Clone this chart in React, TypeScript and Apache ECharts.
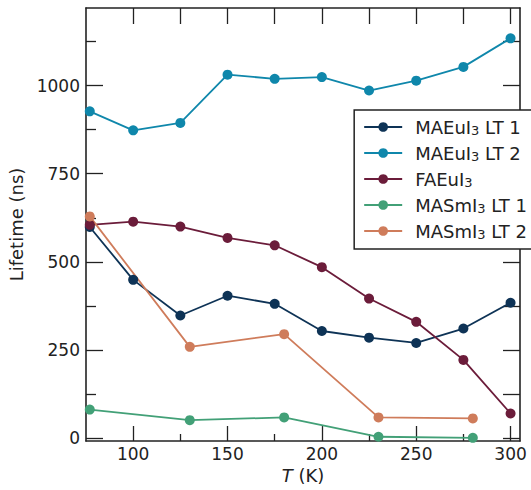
import React, { useEffect, useRef } from "react";
import * as echarts from "echarts";

const tempMAEu = [77, 100, 125, 150, 175, 200, 225, 250, 275, 300];
const tempMASm = [77, 130, 180, 230, 280];
const maeuLT1 = [599, 449, 348, 404, 381, 304, 285, 270, 311, 384];
const maeuLT2 = [927, 873, 894, 1031, 1019, 1024, 986, 1014, 1053, 1134];
const faeu = [605, 614, 600, 568, 547, 485, 396, 330, 222, 70];
const masmLT1 = [81, 51, 59, 4, 1];
const masmLT2 = [629, 259, 295, 59, 56];

const seriesNames = ["MAEuI3 LT 1", "MAEuI3 LT 2", "FAEuI3", "MASmI3 LT 1", "MASmI3 LT 2"];
const legendLabels: Record<string, string> = {
  "MAEuI3 LT 1": "{a|MAEuI}{s|3}{a| LT 1}",
  "MAEuI3 LT 2": "{a|MAEuI}{s|3}{a| LT 2}",
  "FAEuI3": "{a|FAEuI}{s|3}",
  "MASmI3 LT 1": "{a|MASmI}{s|3}{a| LT 1}",
  "MASmI3 LT 2": "{a|MASmI}{s|3}{a| LT 2}",
};
const colors = ["#0e3356", "#0f87ab", "#6b1c3a", "#42a077", "#cf7c5b"];

const xMajor = [100, 150, 200, 250, 300];
const xMinor = [125, 175, 225, 275];
const xAll = [100, 125, 150, 175, 200, 225, 250, 275, 300];
const yMajor = [0, 250, 500, 750, 1000];
const yMinor = [125, 375, 625, 875, 1125];
const yAll = [0, 125, 250, 375, 500, 625, 750, 875, 1000, 1125];

const FONT = "DejaVu Sans";
const INK = "#222";

function pairs(xs: number[], ys: number[]) {
  return xs.map((x, i) => [x, ys[i]]);
}

export default function App() {
  const ref = useRef<HTMLDivElement>(null);
  useEffect(() => {
    if (!ref.current) return;
    const chart = echarts.init(ref.current, null, { renderer: "svg" });
    const xMin = 75, xMax = 305, yMin = -8, yMax = 1220;
    const tickLine = { color: INK, width: 1.3 };
    const frame = { show: true, onZero: false, lineStyle: { color: INK, width: 1.6 } };
    const noLine = { show: false, onZero: false };
    const baseX = { type: "value", min: xMin, max: xMax, splitLine: { show: false } };
    const baseY = { type: "value", min: yMin, max: yMax, splitLine: { show: false } };
    const datasets = [
      pairs(tempMAEu, maeuLT1),
      pairs(tempMAEu, maeuLT2),
      pairs(tempMAEu, faeu),
      pairs(tempMASm, masmLT1),
      pairs(tempMASm, masmLT2),
    ];
    chart.setOption({
      animation: false,
      grid: { left: 86, right: 11, top: 8, bottom: 49, containLabel: false, outerBoundsMode: "none" },
      xAxis: [
        {
          ...baseX,
          position: "bottom",
          axisLine: frame,
          axisTick: { show: true, inside: true, length: 15, lineStyle: tickLine, customValues: xMajor },
          axisLabel: {
            show: true, customValues: xMajor, margin: 4, fontSize: 17, fontFamily: FONT, color: INK,
            formatter: (v: number) => String(v),
          },
          name: "{i|T} (K)",
          nameLocation: "middle",
          nameGap: 24,
          nameTextStyle: {
            fontSize: 18, fontFamily: FONT, color: INK,
            rich: { i: { fontStyle: "italic", fontSize: 18, fontFamily: FONT, color: INK } },
          },
        },
        {
          ...baseX,
          position: "bottom",
          axisLine: noLine,
          axisTick: { show: true, inside: true, length: 7, lineStyle: tickLine, customValues: xMinor },
          axisLabel: { show: false },
        },
        {
          ...baseX,
          position: "top",
          axisLine: frame,
          axisTick: { show: true, inside: true, length: 16, lineStyle: tickLine, customValues: xAll },
          axisLabel: { show: false },
        },
      ],
      yAxis: [
        {
          ...baseY,
          position: "left",
          axisLine: frame,
          axisTick: { show: true, inside: true, length: 17, lineStyle: tickLine, customValues: yMajor },
          axisLabel: {
            show: true, customValues: yMajor, margin: 6, fontSize: 17, fontFamily: FONT, color: INK,
            formatter: (v: number) => String(v),
          },
          name: "Lifetime (ns)",
          nameLocation: "middle",
          nameGap: 56,
          nameTextStyle: { fontSize: 18, fontFamily: FONT, color: INK },
        },
        {
          ...baseY,
          position: "left",
          axisLine: noLine,
          axisTick: { show: true, inside: true, length: 10, lineStyle: tickLine, customValues: yMinor },
          axisLabel: { show: false },
        },
        {
          ...baseY,
          position: "right",
          axisLine: frame,
          axisTick: { show: true, inside: true, length: 17, lineStyle: tickLine, customValues: yAll },
          axisLabel: { show: false },
        },
      ],
      legend: {
        orient: "vertical",
        right: -36,
        top: 110,
        padding: [8, 40, 8, 9],
        itemGap: 7,
        itemWidth: 38,
        itemHeight: 12,
        borderColor: INK,
        borderWidth: 1.5,
        borderRadius: 0,
        backgroundColor: "#fff",
        data: seriesNames,
        formatter: (n: string) => legendLabels[n] || n,
        textStyle: {
          padding: [0, 0, 0, 8],
          rich: {
            a: { fontSize: 18, fontFamily: FONT, color: INK, lineHeight: 20 },
            s: { fontSize: 13, fontFamily: FONT, color: INK, lineHeight: 13, verticalAlign: "bottom" },
          },
        },
      },
      series: seriesNames.map((name, i) => ({
        name,
        type: "line",
        xAxisIndex: 0,
        yAxisIndex: 0,
        data: datasets[i],
        symbol: "circle",
        symbolSize: 10,
        showSymbol: true,
        clip: false,
        color: colors[i],
        lineStyle: { color: colors[i], width: 1.8 },
        itemStyle: { color: colors[i] },
        emphasis: { disabled: true },
      })),
    });
    return () => chart.dispose();
  }, []);
  return (
    <div
      ref={ref}
      style={{ position: "absolute", left: 0, top: 0, width: 531, height: 490, background: "#fff" }}
    />
  );
}
